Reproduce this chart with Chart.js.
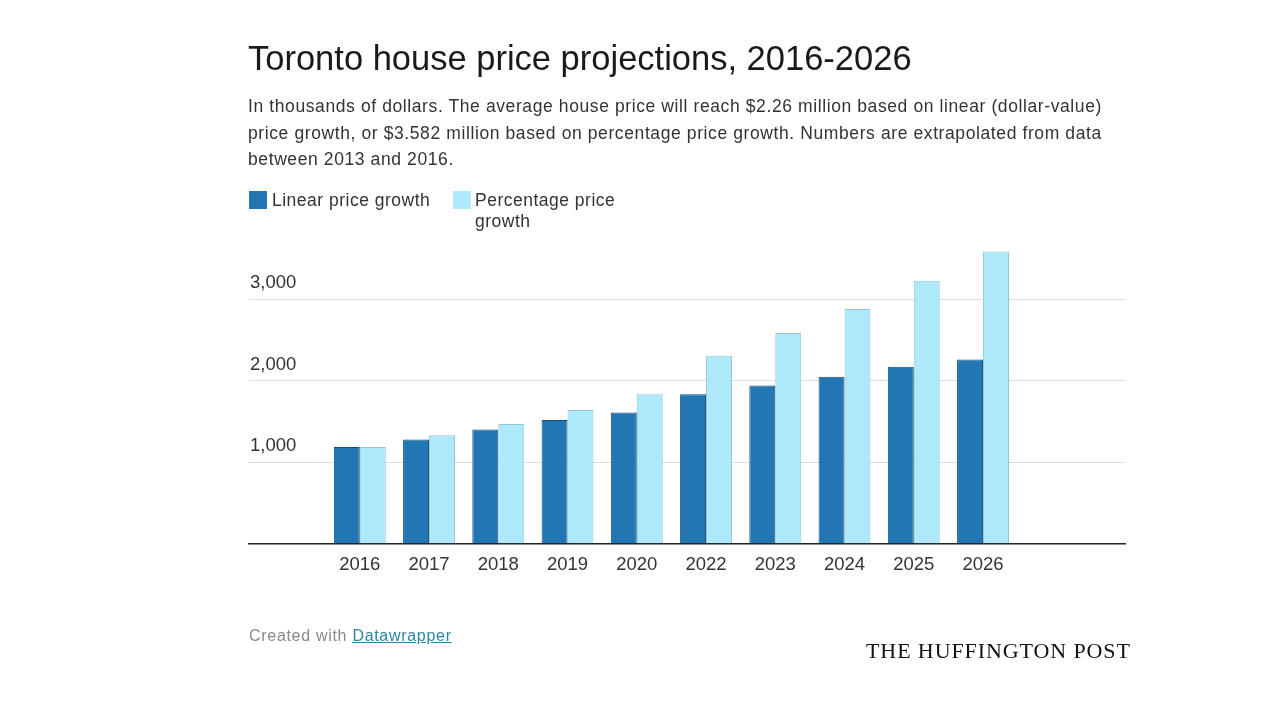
<!DOCTYPE html>
<html>
<head>
<meta charset="utf-8">
<script src="https://cdn.jsdelivr.net/npm/chart.js@4"></script>
<style>
  html, body { margin: 0; padding: 0; background: #fff; }
  body { width: 1280px; height: 720px; position: relative; overflow: hidden;
         font-family: "Liberation Sans", Arial, sans-serif; }
  #wrap { position: absolute; left: 0; top: 0; width: 1280px; height: 720px; }
  .txt { position: absolute; }
  #title { left: 248px; top: 39px; font-size: 34.5px; color: #1a1a1a; white-space: nowrap; }
  #sub { left: 248px; top: 93px; font-size: 17.5px; letter-spacing: 0.6px; line-height: 26.5px;
         color: #333; white-space: nowrap; }
  .sw { position: absolute; width: 18px; height: 18px; }
  .lg { position: absolute; font-size: 17.5px; letter-spacing: 0.5px; line-height: 21px; color: #333; }
  #credit { left: 249px; top: 627px; font-size: 16px; letter-spacing: 0.7px; color: #888; white-space: nowrap; }
  #credit a { color: #2a86a8; text-decoration: underline; }
  #huff { left: 866px; top: 638px; font-family: "Liberation Serif", "Times New Roman", serif;
          font-size: 22px; letter-spacing: 0.9px; color: #111; white-space: nowrap; }
</style>
</head>
<body>
<div id="wrap"><canvas id="chart" width="1280" height="720"></canvas></div>
<div class="txt" id="title">Toronto house price projections, 2016-2026</div>
<div class="txt" id="sub">In thousands of dollars. The average house price will reach $2.26 million based on linear (dollar-value)<br>price growth, or $3.582 million based on percentage price growth. Numbers are extrapolated from data<br>between 2013 and 2016.</div>
<div class="sw" style="left:249px;top:191px;background:#2176b3"></div>
<div class="lg" style="left:272px;top:190px">Linear price growth</div>
<div class="sw" style="left:453px;top:191px;background:#aee9fb"></div>
<div class="lg" style="left:475px;top:190px">Percentage price<br>growth</div>
<div class="txt" id="credit">Created with <a>Datawrapper</a></div>
<div class="txt" id="huff">THE HUFFINGTON POST</div>
<script>
// Values in thousands of dollars
var years = ["2016", "2017", "2018", "2019", "2020", "2022", "2023", "2024", "2025", "2026"];
var linearGrowth = [1187, 1278, 1400, 1519, 1609, 1834, 1941, 2047, 2170, 2260];
var percentGrowth = [1187, 1330, 1469, 1641, 1834, 2305, 2584, 2878, 3226, 3582];
var yTicks = [1000, 2000, 3000];

var darkBlue = "#2176b3";
var lightBlue = "#aee9fb";

// bars sit on a linear index axis so the empty room at both ends can be kept
function toPoints(arr) {
    return arr.map(function(v, i) { return {x: i, y: v}; });
}

var ctx = document.getElementById('chart');
var chart = new Chart(ctx, {
    type: 'bar',
    data: {
        datasets: [{
            label: 'Linear price growth',
            data: toPoints(linearGrowth),
            backgroundColor: darkBlue,
            borderColor: '#14507a',
            borderWidth: 1
        }, {
            label: 'Percentage price growth',
            data: toPoints(percentGrowth),
            backgroundColor: lightBlue,
            borderColor: '#90c8d8',
            borderWidth: 1
        }]
    },
    options: {
        responsive: false,
        animation: false,
        barPercentage: 1.0,
        categoryPercentage: 0.75,
        layout: { padding: { left: 247, right: 155, top: 242, bottom: 142 } },
        plugins: {
            legend: { display: false },
            tooltip: { enabled: false }
        },
        scales: {
            x: {
                type: 'linear',
                offset: false,
                min: -1.6,
                max: 11.05,
                afterBuildTicks: function(scale) {
                    scale.ticks = years.map(function(y, i) { return {value: i}; });
                },
                grid: { display: false, offset: false },
                border: { display: true, color: '#222', width: 1.5 },
                ticks: {
                    autoSkip: false,
                    maxRotation: 0,
                    padding: 2,
                    color: '#333',
                    font: { family: 'Liberation Sans', size: 18.5 },
                    callback: function(value) { return years[value]; }
                }
            },
            y: {
                min: 0,
                max: 3700,
                afterBuildTicks: function(scale) {
                    scale.ticks = [0].concat(yTicks).map(function(v) { return {value: v}; });
                },
                border: { display: false },
                grid: { color: '#dcdcdc', lineWidth: 1, drawTicks: false },
                ticks: {
                    mirror: true,
                    padding: 1,
                    labelOffset: -16,
                    color: '#333',
                    font: { family: 'Liberation Sans', size: 18.5 },
                    callback: function(value) {
                        return value === 0 ? '' : value.toLocaleString('en-US');
                    }
                }
            }
        }
    }
});
</script>
</body>
</html>
